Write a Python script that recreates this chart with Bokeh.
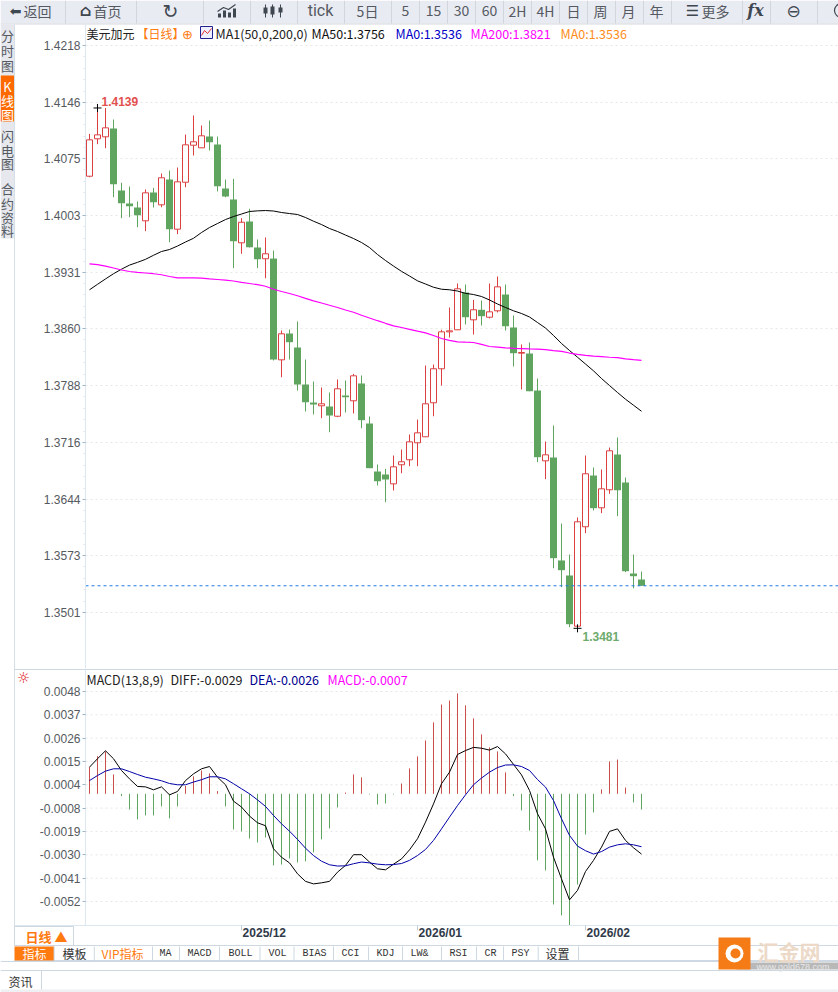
from bokeh.core.properties import value
from bokeh.embed import file_html
from bokeh.models import FixedTicker, LinearAxis, Range1d
from bokeh.plotting import figure
from bokeh.resources import INLINE

open_ = [1.40527, 1.41000, 1.41025, 1.41130, 1.40346, 1.40182, 1.40131, 1.39963, 1.40321, 1.40165,
         1.40485, 1.39857, 1.40451, 1.40919, 1.40886, 1.41029, 1.40928, 1.40371, 1.40232, 1.39685,
         1.39954, 1.39625, 1.39483, 1.39486, 1.38205, 1.38538, 1.38361, 1.37893, 1.37665, 1.37624,
         1.37615, 1.37492, 1.37754, 1.37687, 1.37906, 1.37400, 1.36793, 1.36755, 1.36637, 1.36878,
         1.36941, 1.37156, 1.37232, 1.37662, 1.38092, 1.38559, 1.38585, 1.39056, 1.38711, 1.38838,
         1.38744, 1.38825, 1.39031, 1.38614, 1.38289, 1.38285, 1.37817, 1.36928, 1.36970, 1.35668,
         1.35478, 1.34837, 1.36094, 1.36742, 1.36334, 1.36562, 1.37008, 1.36654, 1.35503, 1.35427]
high = [1.41063, 1.41390, 1.41390, 1.41244, 1.40444, 1.40397, 1.40207, 1.40359, 1.40380, 1.40561,
        1.40599, 1.40637, 1.41054, 1.41295, 1.41168, 1.41231, 1.41029, 1.40485, 1.40494, 1.39996,
        1.40115, 1.39727, 1.39752, 1.39587, 1.38576, 1.38589, 1.38690, 1.38209, 1.37931, 1.37855,
        1.37792, 1.37956, 1.37944, 1.38028, 1.38007, 1.37488, 1.36881, 1.36827, 1.36995, 1.37071,
        1.37261, 1.37450, 1.38133, 1.38146, 1.38585, 1.38867, 1.39170, 1.39158, 1.38964, 1.38955,
        1.39170, 1.39259, 1.39158, 1.38766, 1.38399, 1.38424, 1.37969, 1.37172, 1.37375, 1.36135,
        1.35743, 1.36211, 1.36995, 1.36844, 1.36818, 1.37096, 1.37223, 1.36717, 1.35743, 1.35528]
low = [1.40514, 1.40932, 1.40881, 1.40261, 1.39996, 1.40009, 1.39882, 1.39832, 1.40131, 1.40135,
       1.39692, 1.39794, 1.40388, 1.40789, 1.40886, 1.40852, 1.40334, 1.40261, 1.39364, 1.39546,
       1.39625, 1.39364, 1.39237, 1.38197, 1.37985, 1.38209, 1.37817, 1.37552, 1.37514, 1.37467,
       1.37290, 1.37480, 1.37539, 1.37526, 1.37340, 1.36835, 1.36616, 1.36405, 1.36553, 1.36771,
       1.36860, 1.36860, 1.37232, 1.37492, 1.37880, 1.38487, 1.38585, 1.38652, 1.38525, 1.38639,
       1.38728, 1.38804, 1.38576, 1.38121, 1.37830, 1.37808, 1.36911, 1.36696, 1.35570, 1.35330,
       1.34824, 1.34810, 1.36013, 1.36300, 1.36266, 1.36511, 1.36228, 1.35520, 1.35316, 1.35348]
close = [1.40987, 1.41050, 1.41139, 1.40426, 1.40186, 1.40148, 1.40034, 1.40317, 1.40198, 1.40507,
         1.39857, 1.40456, 1.40924, 1.40962, 1.41038, 1.40957, 1.40401, 1.40270, 1.39705, 1.39945,
         1.39629, 1.39477, 1.39546, 1.38209, 1.38534, 1.38428, 1.37893, 1.37669, 1.37640, 1.37649,
         1.37501, 1.37839, 1.37732, 1.38003, 1.37442, 1.36835, 1.36670, 1.36692, 1.36852, 1.36916,
         1.37168, 1.37282, 1.37649, 1.38092, 1.38559, 1.38572, 1.39103, 1.38744, 1.38838, 1.38757,
         1.38812, 1.39128, 1.38630, 1.38289, 1.38298, 1.37808, 1.36974, 1.37004, 1.35697, 1.35545,
         1.34862, 1.36157, 1.36764, 1.36329, 1.36574, 1.37055, 1.36556, 1.35532, 1.35469, 1.35348]
ma50 = [1.39091, 1.39160, 1.39228, 1.39294, 1.39351, 1.39403, 1.39438, 1.39476, 1.39527, 1.39575,
        1.39600, 1.39644, 1.39695, 1.39742, 1.39815, 1.39878, 1.39929, 1.39979, 1.40017, 1.40049,
        1.40081, 1.40089, 1.40093, 1.40087, 1.40068, 1.40055, 1.40043, 1.40005, 1.39958, 1.39916,
        1.39866, 1.39828, 1.39783, 1.39739, 1.39689, 1.39625, 1.39537, 1.39461, 1.39391, 1.39324,
        1.39265, 1.39204, 1.39164, 1.39123, 1.39098, 1.39091, 1.39075, 1.39046, 1.39031, 1.39006,
        1.38962, 1.38911, 1.38867, 1.38825, 1.38791, 1.38747, 1.38677, 1.38607, 1.38513, 1.38412,
        1.38323, 1.38238, 1.38152, 1.38066, 1.37969, 1.37880, 1.37792, 1.37707, 1.37631, 1.37555]
ma200 = [1.39419, 1.39410, 1.39391, 1.39366, 1.39341, 1.39322, 1.39312, 1.39303, 1.39294, 1.39281,
         1.39259, 1.39242, 1.39242, 1.39242, 1.39239, 1.39228, 1.39221, 1.39213, 1.39202, 1.39185,
         1.39170, 1.39155, 1.39136, 1.39098, 1.39069, 1.39044, 1.39016, 1.38983, 1.38951, 1.38924,
         1.38895, 1.38867, 1.38835, 1.38807, 1.38769, 1.38734, 1.38700, 1.38667, 1.38635, 1.38614,
         1.38591, 1.38568, 1.38546, 1.38513, 1.38475, 1.38452, 1.38433, 1.38428, 1.38424, 1.38401,
         1.38374, 1.38366, 1.38357, 1.38351, 1.38347, 1.38343, 1.38341, 1.38333, 1.38322, 1.38313,
         1.38291, 1.38275, 1.38262, 1.38251, 1.38245, 1.38238, 1.38232, 1.38218, 1.38207, 1.38197]
macd_hist = [.00127, .00179, .00202, .00092, -.00011, -.00075, -.00122, -.00103, -.00103, -.00060,
             -.00117, -.00060, .00037, .00083, .00111, .00097, .00013, -.00060, -.00170, -.00179,
             -.00213, -.00232, -.00208, -.00341, -.00337, -.00308, -.00327, -.00322, -.00279, -.00217,
             -.00165, -.00065, .00006, .00092, .00078, -.00003, -.00051, -.00046, -.00003, .00049,
             .00121, .00178, .00254, .00340, .00425, .00444, .00478, .00421, .00359, .00283,
             .00221, .00202, .00102, -.00011, -.00079, -.00175, -.00317, -.00365, -.00527, -.00579,
             -.00627, -.00432, -.00194, -.00089, .00021, .00154, .00163, .00030, -.00041, -.00075]
diff = [.00127, .00167, .00205, .00167, .00111, .00071, .00035, .00033, .00019, .00033,
        -.00005, .00011, .00063, .00095, .00119, .00130, .00079, .00043, -.00035, -.00063,
        -.00106, -.00138, -.00152, -.00262, -.00302, -.00329, -.00381, -.00417, -.00429, -.00424,
        -.00417, -.00373, -.00341, -.00290, -.00290, -.00325, -.00357, -.00362, -.00335, -.00310,
        -.00267, -.00214, -.00135, -.00048, .00048, .00103, .00187, .00206, .00221, .00217,
        .00208, .00225, .00190, .00140, .00090, .00016, -.00095, -.00167, -.00302, -.00405,
        -.00505, -.00460, -.00370, -.00317, -.00254, -.00179, -.00167, -.00222, -.00257, -.00287]
dea = [.00063, .00087, .00108, .00119, .00119, .00106, .00092, .00079, .00071, .00062,
       .00049, .00043, .00043, .00056, .00067, .00081, .00081, .00071, .00048, .00024,
       .00000, -.00029, -.00060, -.00103, -.00143, -.00178, -.00217, -.00259, -.00294, -.00321,
       -.00338, -.00344, -.00343, -.00333, -.00325, -.00329, -.00335, -.00338, -.00337, -.00332,
       -.00317, -.00294, -.00265, -.00222, -.00167, -.00111, -.00056, -.00005, .00043, .00075,
       .00103, .00125, .00137, .00138, .00130, .00111, .00068, .00032, -.00032, -.00119,
       -.00198, -.00249, -.00271, -.00287, -.00275, -.00254, -.00243, -.00238, -.00243, -.00252]

price_ticks = [1.4218, 1.4146, 1.4075, 1.4003, 1.3931, 1.3860, 1.3788, 1.3716, 1.3644, 1.3573, 1.3501]
macd_ticks = [.00487, .00376, .00265, .00154, .00043, -.00068, -.00180, -.00291, -.00402, -.00513]
macd_labels = ["0.0048", "0.0037", "0.0026", "0.0015", "0.0004", "-0.0008", "-0.0019", "-0.0030", "-0.0041", "-0.0052"]
month_bars = [19, 41, 62]
month_labels = ["2025/12", "2026/01", "2026/02"]

GREEN = "#5fa55f"
RED = "#db4040"
ORANGE = "#ff7a0f"
AXIS = "#dde7ef"
CJK = "Noto Sans CJK SC"
UI = "Liberation Sans"
MONO = "Liberation Mono"

W, H = 838, 992
# the svg canvas sits half a pixel off, so whole-pixel x values give crisp 1px bars
bar_x = lambda px: (px - 89) / 8
price_y = lambda py: 1.3501 + (612 - py) / 7908
macd_y = lambda py: (793.3 - py) / 21000

p = figure(width=W, height=H, output_backend="svg", toolbar_location=None, min_border=0,
           x_axis_type=None, y_axis_type=None,
           x_range=Range1d(bar_x(0), bar_x(W)),
           y_range=Range1d(price_y(H), price_y(0)))
p.outline_line_color = None
p.grid.visible = False
p.extra_x_ranges["px"] = Range1d(0, W)
p.extra_y_ranges["px"] = Range1d(H, 0)
p.extra_y_ranges["macd"] = Range1d(macd_y(H), macd_y(0))

PX = dict(x_range_name="px", y_range_name="px")


def label(x, y, text, color="#444444", size=12, font=CJK, align="left", style="normal"):
    p.text(x=[x], y=[y], text=[text], text_color=color, text_font_size=f"{size}px", text_font=value(font),
           text_align=align, text_baseline="middle", text_font_style=style, **PX)


def box(left, right, top, bottom, fill, line=None, **kw):
    p.quad(left=[left], right=[right], top=[top], bottom=[bottom], fill_color=fill, line_color=line, **PX, **kw)


# dotted grid lines
p.segment(x0=[85] * len(price_ticks), x1=[838] * len(price_ticks), y0=price_ticks, y1=price_ticks,
          line_color="#e6e6e6", line_dash="2 3", x_range_name="px")
p.segment(x0=[85] * len(macd_ticks), x1=[838] * len(macd_ticks), y0=macd_ticks, y1=macd_ticks,
          line_color="#e6e6e6", line_dash="2 3", x_range_name="px", y_range_name="macd")

# candles
bars = list(range(len(close)))
up = [c >= o for o, c in zip(open_, close)]
p.segment(x0=bars, x1=bars, y0=low, y1=high, line_width=1, line_color=[RED if u else GREEN for u in up])
dn_i = [i for i in bars if not up[i]]
up_i = [i for i in bars if up[i]]
p.vbar(x=dn_i, width=0.875, top=[open_[i] for i in dn_i], bottom=[close[i] for i in dn_i],
       fill_color=GREEN, line_color=None)
p.vbar(x=up_i, width=0.75, top=[close[i] for i in up_i], bottom=[open_[i] for i in up_i],
       fill_color="white", line_color=RED, line_width=1)

p.line(bars, ma50, line_color="black", line_width=1)
p.line(bars, ma200, line_color="#ff00ff", line_width=1.2)
p.segment(x0=[85], x1=[838], y0=[close[-1]], y1=[close[-1]], line_color="#1f7ae0", line_dash="3 3", x_range_name="px")

hi_bar, lo_bar = high.index(max(high)), low.index(min(low))
p.scatter([hi_bar], [max(high)], marker="cross", size=8, line_color="black", line_width=1)
p.scatter([lo_bar], [min(low)], marker="cross", size=8, line_color="black", line_width=1)
p.text([hi_bar], [max(high)], text=[f"{max(high):.4f}"], x_offset=4, y_offset=-6, text_color="#e2504f",
       text_font=value(UI), text_font_size="12px", text_font_style="bold", text_baseline="middle")
p.text([lo_bar], [min(low)], text=[f"{min(low):.4f}"], x_offset=5, y_offset=8, text_color="#6dab6d",
       text_font=value(UI), text_font_size="12px", text_font_style="bold", text_baseline="middle")

# macd panel
p.segment(x0=bars, x1=bars, y0=[0] * len(bars), y1=macd_hist, line_width=1,
          line_color=["#c9504a" if v > 0 else GREEN for v in macd_hist], y_range_name="macd")
p.line(bars, diff, line_color="black", line_width=1, y_range_name="macd")
p.line(bars, dea, line_color="#0000a8", line_width=1, y_range_name="macd")

# axes sit inside the frame at the positions of the original panels
price_minor = [a + (b - a) * k / 5 for a, b in zip(price_ticks, price_ticks[1:]) for k in range(1, 5)]
price_axis = LinearAxis(fixed_location=bar_x(85), bounds=(price_y(668), price_y(24)),
                        ticker=FixedTicker(ticks=price_ticks, minor_ticks=price_minor),
                        major_label_overrides={v: f"{v:.4f}" for v in price_ticks})
macd_axis = LinearAxis(fixed_location=bar_x(85), bounds=(macd_y(925), macd_y(669)), y_range_name="macd",
                       ticker=FixedTicker(ticks=macd_ticks),
                       major_label_overrides=dict(zip(macd_ticks, macd_labels)))
for ax in (price_axis, macd_axis):
    ax.axis_line_color = AXIS
    ax.major_tick_line_color = "#9fb4c6"
    ax.major_tick_out = 3
    ax.major_tick_in = 0
    ax.minor_tick_line_color = "#dde7ef"
    ax.minor_tick_out = 2
    ax.minor_tick_in = 0
    ax.major_label_standoff = 2
    ax.major_label_text_font = UI
    ax.major_label_text_font_size = "12px"
    ax.major_label_text_color = "#555a60"
    p.add_layout(ax, "left")

tick_axis = LinearAxis(fixed_location=macd_y(925), bounds=(bar_x(14), bar_x(838)), y_range_name="macd",
                       ticker=FixedTicker(ticks=month_bars),
                       major_label_overrides={m: "" for m in month_bars})
tick_axis.axis_line_color = AXIS
tick_axis.major_tick_line_color = "#c0ccd6"
tick_axis.major_tick_out = 5
tick_axis.major_tick_in = 0
tick_axis.minor_tick_line_color = None
p.add_layout(tick_axis, "below")
month_pos = [m + 2.85 for m in month_bars]
month_axis = LinearAxis(fixed_location=macd_y(925), y_range_name="macd", ticker=FixedTicker(ticks=month_pos),
                        major_label_overrides=dict(zip(month_pos, month_labels)))
month_axis.axis_line_color = None
month_axis.major_tick_line_color = None
month_axis.minor_tick_line_color = None
month_axis.major_tick_out = 0
month_axis.major_tick_in = 0
month_axis.major_label_standoff = 0
month_axis.major_label_text_font = UI
month_axis.major_label_text_font_size = "12px"
month_axis.major_label_text_font_style = "bold"
month_axis.major_label_text_color = "#2f3a4a"
p.add_layout(month_axis, "below")

# panel legends
for x, text, color in [(86, "美元加元", "#222222"), (136, "【日线】", ORANGE), (215, "MA1(50,0,200,0)", "#222222"),
                       (311, "MA50:1.3756", "#111111"), (395, "MA0:1.3536", "#0000c8"),
                       (470, "MA200:1.3821", "#ff00ff"), (560, "MA0:1.3536", "#ff8c1a")]:
    label(x, 33, text, color=color, size=12.5 if x > 200 else 12)
label(187, 34, "⊕", color=ORANGE, size=13, font="DejaVu Sans", align="center")
box(200, 212, 26, 38, "#eef0ff", line="#20208f")
p.line([201, 204, 207, 211], [35, 30, 33, 28], line_color="#e03030", **PX)
for x, text, color in [(86, "MACD(13,8,9)", "#222222"), (170, "DIFF:-0.0029", "#222222"),
                       (249, "DEA:-0.0026", "#00008f"), (327, "MACD:-0.0007", "#ff00ff")]:
    label(x, 679, text, color=color, size=12.5)
label(23, 677, "☼", color="#e01010", size=15, font="DejaVu Sans", align="center")

# top toolbar
TOOL_Y = 10
box(0, 838, 23, 0, "#e9ebf2")
p.segment(x0=[0], x1=[838], y0=[23.5], y1=[23.5], line_color="#d4d7dd", **PX)
tool_seps = [65, 136, 203, 250, 297, 344, 391, 419, 447, 475, 503, 531, 559, 587, 615, 643, 671, 742, 770, 817]
p.segment(x0=tool_seps, x1=tool_seps, y0=[0] * len(tool_seps), y1=[23] * len(tool_seps), line_color="#d2d5db", **PX)
for x, text in [(37, "返回"), (107, "首页"), (367, "5日"), (405, "5"), (433, "15"), (461, "30"),
                (489, "60"), (517, "2H"), (545, "4H"), (573, "日"), (600, "周"), (628, "月"), (656, "年")]:
    label(x, TOOL_Y, text, color="#555a62", size=14, align="center", font="Noto Sans CJK SC")
label(320, TOOL_Y, "tick", color="#555a62", size=16, align="center", font="Roboto")
label(715, TOOL_Y, "更多", color="#555a62", size=14, align="center")
label(15, TOOL_Y, "⬅", color="#3f4750", size=14, font="DejaVu Sans", align="center")
label(85, TOOL_Y, "⌂", color="#3f4750", size=16, font="DejaVu Sans", align="center", style="bold")
label(170, TOOL_Y, "↻", color="#3f4750", size=19, font="DejaVu Sans", align="center")
label(692, TOOL_Y, "☰", color="#3f4750", size=15, font="DejaVu Sans", align="center", style="bold")
label(755, TOOL_Y, "fx", color="#3f4750", size=16, font="DejaVu Serif", align="center", style="bold italic")
label(793, TOOL_Y, "⊖", color="#3f4750", size=17, font="DejaVu Sans", align="center")
p.circle(x=[841], y=[10], radius=7, radius_units="screen", fill_color=None, line_color="#3f4750", line_width=1.2, **PX)
p.vbar(x=[219, 224, 229, 234], width=3, top=[17, 17, 17, 17], bottom=[13, 10, 12, 8], fill_color="#3f4750", line_color=None, **PX)
p.line([217, 223, 228, 235], [11, 7, 9, 4], line_color="#3f4750", line_width=1.2, **PX)
p.segment(x0=[265, 272, 280], x1=[265, 272, 280], y0=[4, 4, 4], y1=[17, 17, 17], line_color="#3f4750", **PX)
p.vbar(x=[265, 272, 280], width=4, top=[7, 6, 7], bottom=[13, 14, 12], fill_color="#3f4750", line_color=None, **PX)

# side tabs
TAB_X = 7
box(0, 14, 238, 24, "#e6e8ee")
box(0, 14, 121, 75, "#ff6a00")
p.segment(x0=[14], x1=[14], y0=[24], y1=[945], line_color="#d5dfe8", **PX)
side_text = [("分", 35), ("时", 50), ("图", 65), ("K", 86), ("线", 100), ("图", 114), ("闪", 135), ("电", 150),
             ("图", 163), ("合", 188), ("约", 203), ("资", 217), ("料", 230)]
for text, y in side_text:
    label(TAB_X, y, text, color="white" if 75 < y < 121 else "#555a62", size=13, align="center")

# panel borders and bottom tabs
p.segment(x0=[14, 14, 14, 0, 0], x1=[838, 838, 838, 838, 838], y0=[669, 945, 960, 961, 970],
          y1=[669, 945, 960, 961, 970], line_color="#cdd8e2", **PX)
box(14, 73, 945, 926, "white", line="#cdd8e2")
label(46, 936, "日线 ▲", color=ORANGE, size=13, align="center", style="bold")
box(14, 53.6, 960, 946, ORANGE)
tab_seps = [53.6, 93.8, 152, 179, 219, 259.5, 293.5, 333, 368, 402, 441, 476, 503, 537.7, 578]
p.segment(x0=tab_seps, x1=tab_seps, y0=[946] * len(tab_seps), y1=[960] * len(tab_seps), line_color="#cdd8e2", **PX)
for x, text, color in [(34, "指标", "white"), (74, "模板", "#333333"), (122, "VIP指标", ORANGE), (165, "MA", "#333333"),
                       (199, "MACD", "#333333"), (240, "BOLL", "#333333"), (277, "VOL", "#333333"), (314, "BIAS", "#333333"),
                       (350, "CCI", "#333333"), (385, "KDJ", "#333333"), (419, "LW&", "#333333"), (458, "RSI", "#333333"),
                       (490, "CR", "#333333"), (520, "PSY", "#333333"), (557, "设置", "#333333")]:
    label(x, 953, text, color=color, size=12 if ord(text[-1]) > 255 else 10, align="center",
          font=CJK if ord(text[-1]) > 255 else MONO)
label(20, 981, "资讯", color="#333333", size=12, align="center")
p.segment(x0=[41], x1=[41], y0=[970], y1=[990], line_color="#cdd8e2", **PX)
box(0, 838, 992, 989, "#eef0f3")

# watermark
box(736, 838, 969, 962, "#b8b8b8")
box(718, 750, 969, 937, "#f47b16")
p.circle(x=[734], y=[953], radius=9, radius_units="screen", fill_color="white", line_color=None, **PX)
p.circle(x=[735], y=[953], radius=5, radius_units="screen", fill_color="#f47b16", line_color=None, **PX)
label(757, 950, "汇金网", color="#ecd9c8", size=21, style="bold")
label(756, 966, "www.gold678.com", color="#e8e8e8", size=9, font=UI)

open("out.html", "w").write(file_html(p, INLINE))
